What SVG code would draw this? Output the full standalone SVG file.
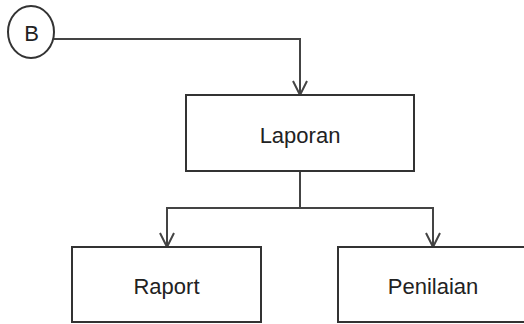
<svg xmlns="http://www.w3.org/2000/svg" width="524" height="324" viewBox="0 0 524 324">
<style>
.box{fill:#fff;stroke:#333;stroke-width:2}
.lbl{font-family:"Liberation Sans",Arial,sans-serif;font-size:22px;fill:#222;text-anchor:middle}
.con{fill:none;stroke:#444;stroke-width:2}
.head{fill:none;stroke:#444;stroke-width:2}
</style>
<rect width="524" height="324" fill="#fff"/>
<g id="connectors">
<polyline class="con" points="54,39 300,39 300,95"/>
<polyline class="head" points="293,81 300,95 307,81"/>
<line class="con" x1="300" y1="171" x2="300" y2="208"/>
<polyline class="con" points="167,247 167,208 433,208 433,247"/>
<polyline class="head" points="160,233 167,247 174,233"/>
<polyline class="head" points="426,233 433,247 440,233"/>
</g>
<g id="node-B">
<ellipse class="box" cx="31" cy="32" rx="23" ry="26"/>
<text class="lbl" x="31.5" y="40.5">B</text>
</g>
<g id="node-laporan">
<rect class="box" x="186" y="95" width="228" height="76"/>
<text class="lbl" x="300" y="143">Laporan</text>
</g>
<g id="node-raport">
<rect class="box" x="72" y="247" width="189" height="75"/>
<text class="lbl" x="166.5" y="294">Raport</text>
</g>
<g id="node-penilaian">
<rect class="box" x="338" y="247" width="190" height="75"/>
<text class="lbl" x="433" y="294">Penilaian</text>
</g>
</svg>
